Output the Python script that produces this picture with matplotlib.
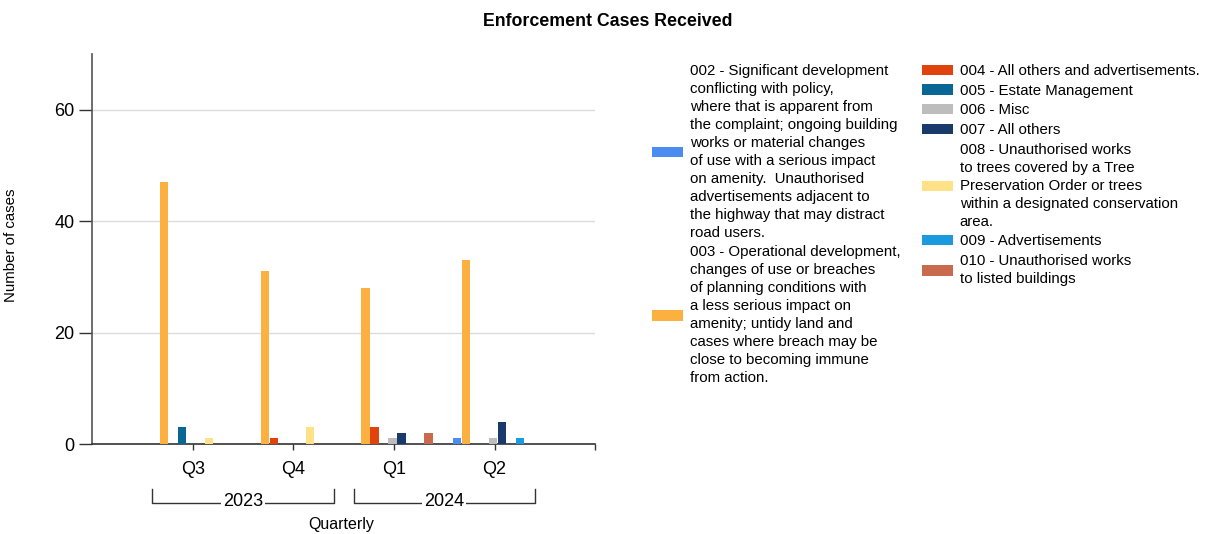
import matplotlib
matplotlib.use('Agg')
import matplotlib.pyplot as plt
from matplotlib.patches import Patch
import numpy as np

plt.rcParams['font.family'] = ['Liberation Sans', 'DejaVu Sans']

# ── data ─────────────────────────────────────────
quarters = ['Q3', 'Q4', 'Q1', 'Q2']
years = ['2023', '2024']
series_names = [
    '002 - Significant development\nconflicting with policy,\nwhere that is apparent from\n'
    'the complaint; ongoing building\nworks or material changes\nof use with a serious impact\n'
    'on amenity.  Unauthorised\nadvertisements adjacent to\nthe highway that may distract\nroad users.',
    '003 - Operational development,\nchanges of use or breaches\nof planning conditions with\n'
    'a less serious impact on\namenity; untidy land and\ncases where breach may be\n'
    'close to becoming immune\nfrom action.',
    '004 - All others and advertisements.',
    '005 - Estate Management',
    '006 - Misc',
    '007 - All others',
    '008 - Unauthorised works\nto trees covered by a Tree\nPreservation Order or trees\n'
    'within a designated conservation\narea.',
    '009 - Advertisements',
    '010 - Unauthorised works\nto listed buildings',
]
colors = ['#4a8cf0', '#fbb040', '#e0430c', '#0a6694', '#bdbdbd',
          '#1a3a6c', '#ffe187', '#1a9be0', '#c96a4e']

# values per series, order Q3 2023, Q4 2023, Q1 2024, Q2 2024
v002 = [0, 0, 0, 1]
v003 = [47, 31, 28, 33]
v004 = [0, 1, 3, 0]
v005 = [3, 0, 0, 0]
v006 = [0, 0, 1, 1]
v007 = [0, 0, 2, 4]
v008 = [1, 3, 0, 0]
v009 = [0, 0, 0, 1]
v010 = [0, 0, 2, 0]
values = [v002, v003, v004, v005, v006, v007, v008, v009, v010]

# ── figure ───────────────────────────────────────
fig = plt.figure(figsize=(12.11, 5.34), dpi=100)
ax = fig.add_axes([0.076, 0.1685, 0.4155, 0.7305])

x = np.arange(1, len(quarters) + 1)
slot = 0.0895
n = len(values)
for i, (vals, col) in enumerate(zip(values, colors)):
    offs = (i - (n - 1) / 2) * slot
    ax.bar(x + offs - 0.015, vals, width=slot * 0.93, color=col, zorder=3)

ax.set_xlim(0, 5)
ax.set_ylim(0, 70)
ax.set_yticks([0, 20, 40, 60])
ax.set_xticks([1, 2, 3, 4, 5])
ax.set_xticklabels(quarters + [''])
ax.tick_params(axis='y', length=9.5, width=1, color='#333333', labelsize=13, pad=3)
ax.tick_params(axis='x', length=4.5, width=1, color='#333333', labelsize=13, pad=8)
ax.grid(axis='y', color='#dcdcdc', linewidth=1, zorder=0)
for s in ['top', 'right']:
    ax.spines[s].set_visible(False)
ax.spines['left'].set_color('#555555')
ax.spines['bottom'].set_color('#333333')
ax.spines['left'].set_linewidth(1.2)
ax.spines['bottom'].set_linewidth(1.2)

ax.set_ylabel('Number of cases', fontsize=10.8)
ax.yaxis.set_label_coords(-0.148, 0.51)

# year brackets
trans = ax.get_xaxis_transform()
for k, yr in enumerate(years):
    c = 1.5 + 2 * k
    x0, x1 = c - 0.9, c + 0.9
    ax.plot([x0, x0, x1, x1], [-0.115, -0.151, -0.151, -0.115], color='#333333',
            linewidth=1, transform=trans, clip_on=False)
    ax.text(c, -0.148, yr, transform=trans, ha='center', va='center', fontsize=13,
            bbox=dict(boxstyle='square,pad=0.12', fc='white', ec='none'))
ax.text(2.475, -0.207, 'Quarterly', transform=trans, ha='center', va='center', fontsize=11.5)

fig.text(0.502, 0.959, 'Enforcement Cases Received', ha='center', va='center',
         fontsize=12.8, fontweight='bold')

# legends (two columns)
handles = [Patch(facecolor=c, edgecolor='none') for c in colors]
leg_kw = dict(frameon=False, fontsize=10.8, handlelength=2.1, handleheight=0.7,
              handletextpad=0.45, labelspacing=0.38, borderpad=0, borderaxespad=0)
leg1 = fig.legend(handles[:2], series_names[:2], loc='upper left',
                  bbox_to_anchor=(0.538, 0.880), **leg_kw)
leg2 = fig.legend(handles[2:], series_names[2:], loc='upper left',
                  bbox_to_anchor=(0.761, 0.880), **leg_kw)
for leg in (leg1, leg2):
    for t in leg.get_texts():
        t.set_linespacing(1.36)

fig.savefig('out.png', dpi=100)
